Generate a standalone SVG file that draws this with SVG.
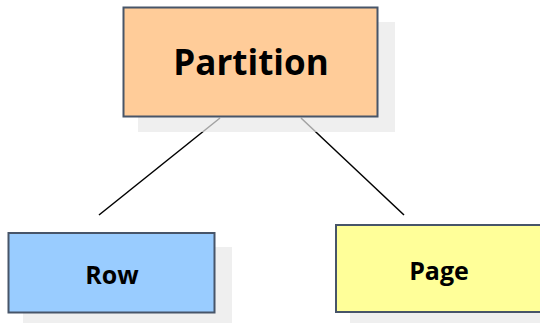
<svg xmlns="http://www.w3.org/2000/svg" width="540" height="323" viewBox="0 0 540 323">
<style>
.box{stroke:#475569;stroke-width:2}
.shadow{fill:#e8e8e8;opacity:0.7}
.conn{stroke:#000;stroke-width:1.5;fill:none}
text{font-family:"Open Sans","Liberation Sans",sans-serif;font-weight:bold;fill:#000;text-anchor:middle}
</style>
<rect width="540" height="323" fill="#fff"/>
<g id="connectors">
<line class="conn" x1="220" y1="118" x2="99" y2="215"/>
<line class="conn" x1="301" y1="118" x2="404" y2="215"/>
</g>
<g id="partition">
<rect class="shadow" x="138" y="22" width="257" height="110"/>
<rect class="box" x="123.5" y="7.5" width="254" height="109" fill="#FFCC99"/>
<text x="251" y="75" font-size="35">Partition</text>
</g>
<g id="row">
<rect class="shadow" x="23" y="247" width="209" height="76"/>
<rect class="box" x="8.5" y="233" width="206" height="79.5" fill="#99CCFF"/>
<text x="112" y="284" font-size="25">Row</text>
</g>
<g id="page">
<rect class="shadow" x="350" y="240" width="200" height="90"/>
<rect class="box" x="336" y="225" width="210" height="87" fill="#FFFF99"/>
<text x="439" y="280" font-size="25">Page</text>
</g>
</svg>
